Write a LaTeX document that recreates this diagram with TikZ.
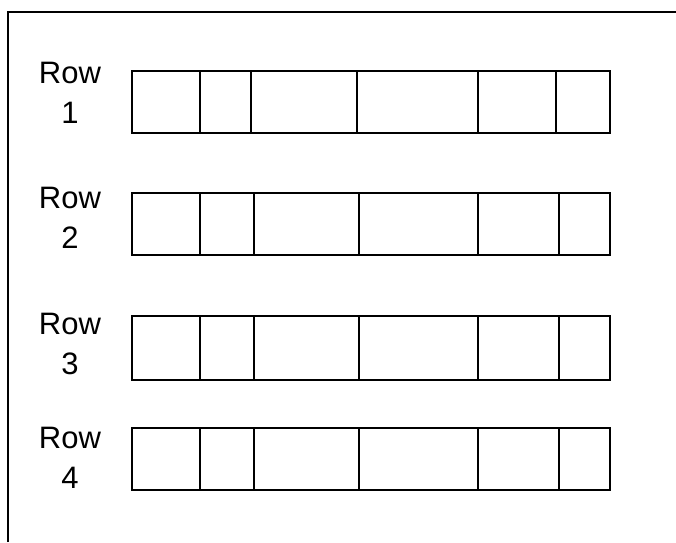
\documentclass[tikz,border=0pt]{standalone}
\usepackage{fontspec}
\setmainfont{Liberation Sans}
\begin{document}
\begin{tikzpicture}[x=1pt,y=-1pt,
  cell/.style={draw=black,line width=2.3pt,anchor=north west,inner sep=0pt,outer sep=0pt},
  lab/.style={font=\fontsize{31}{40}\selectfont,align=center,inner sep=0pt,anchor=base},
  frameline/.style={draw=black,line width=2.2pt}]
\useasboundingbox (0,0) rectangle (676,542);
\draw[frameline] (8,542) -- (8,12) -- (676,12);
% row labels
\node[lab] (r1a) at (70,83) {Row};
\node[lab] (r1b) at (70,123) {1};
\node[lab] (r2a) at (70,208) {Row};
\node[lab] (r2b) at (70,248) {2};
\node[lab] (r3a) at (70,334) {Row};
\node[lab] (r3b) at (70,374) {3};
\node[lab] (r4a) at (70,448) {Row};
\node[lab] (r4b) at (70,488) {4};
% rows of cells
\foreach \r/\top/\bot/\xs in {
  1/71/133/{132,200,251,357,478,556,610},
  2/193/255/{132,200,254,359,478,559,610},
  3/316/380/{132,200,254,359,478,559,610},
  4/428/490/{132,200,254,359,478,559,610}}{
  \foreach \x [count=\i, remember=\x as \lastx (initially 0)] in \xs {
    \ifnum\i>1
      \node[cell,minimum width={(\x-\lastx)*1pt},minimum height={(\bot-\top)*1pt}] (c\r-\i) at (\lastx,\top) {};
    \fi
  }
}
\end{tikzpicture}
\end{document}
